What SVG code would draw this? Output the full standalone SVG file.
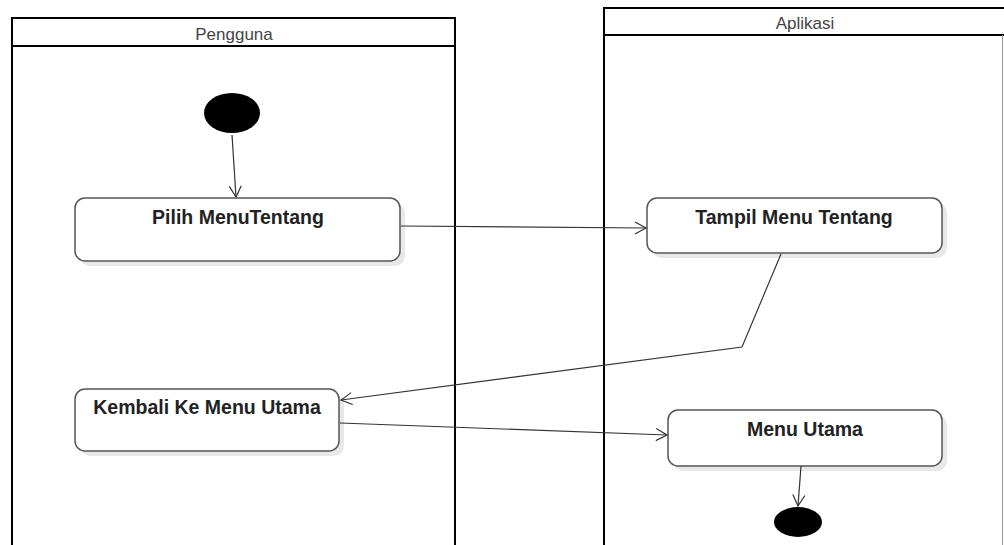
<svg xmlns="http://www.w3.org/2000/svg" width="1004" height="545" viewBox="0 0 1004 545">
<style>
.lane{fill:none;stroke:#000;stroke-width:2}
.lt{font-family:"Liberation Sans",Arial,sans-serif;font-size:17px;fill:#444;text-anchor:middle}
.box{fill:#fff;stroke:#555;stroke-width:1.5}
.sh{fill:#e8e8e8}
.nt{font-family:"Liberation Sans",Arial,sans-serif;font-size:19.5px;font-weight:bold;fill:#222;text-anchor:middle}
.c{fill:none;stroke:#333;stroke-width:1.2}
</style>
<defs>
<marker id="a" markerWidth="14" markerHeight="14" refX="12" refY="7" orient="auto" markerUnits="userSpaceOnUse">
<path d="M1,1 L12,7 L1,13" fill="none" stroke="#333" stroke-width="1.2"/>
</marker>
</defs>
<rect width="1004" height="545" fill="#fff"/>
<g id="lane-pengguna">
<path class="lane" d="M12,545 V18 H455 V545 M12,46 H455"/>
<text class="lt" x="234" y="40">Pengguna</text>
</g>
<g id="lane-aplikasi">
<path class="lane" d="M604,545 V8 H1004 M604,35 H1004"/>
<line x1="1002.5" y1="35" x2="1002.5" y2="545" stroke="#999" stroke-width="1"/>
<text class="lt" x="805" y="29">Aplikasi</text>
</g>
<g id="start">
<ellipse cx="232" cy="113" rx="28" ry="20" fill="#000"/>
</g>
<g id="pilih">
<rect class="sh" x="80" y="203" width="325" height="63" rx="10"/>
<rect class="box" x="75" y="198" width="325" height="63" rx="10"/>
<text class="nt" x="238" y="224">Pilih MenuTentang</text>
</g>
<g id="tampil">
<rect class="sh" x="652" y="203" width="295" height="55" rx="10"/>
<rect class="box" x="647" y="198" width="295" height="55" rx="10"/>
<text class="nt" x="794" y="224">Tampil Menu Tentang</text>
</g>
<g id="kembali">
<rect class="sh" x="80" y="394" width="264" height="62" rx="10"/>
<rect class="box" x="75" y="389" width="264" height="62" rx="10"/>
<text class="nt" x="207" y="414">Kembali Ke Menu Utama</text>
</g>
<g id="menu-utama">
<rect class="sh" x="673" y="415" width="274" height="56" rx="10"/>
<rect class="box" x="668" y="410" width="274" height="56" rx="10"/>
<text class="nt" x="805" y="436">Menu Utama</text>
</g>
<g id="end">
<ellipse cx="798" cy="522" rx="24" ry="15" fill="#000"/>
</g>
<g id="connectors">
<path class="c" d="M232,135 L236,197" marker-end="url(#a)"/>
<path class="c" d="M401,226 L646,228" marker-end="url(#a)"/>
<path class="c" d="M781,254 L742,347 L341,400" marker-end="url(#a)"/>
<path class="c" d="M340,423 L667,435" marker-end="url(#a)"/>
<path class="c" d="M801,466 L798,506" marker-end="url(#a)"/>
</g>
</svg>
